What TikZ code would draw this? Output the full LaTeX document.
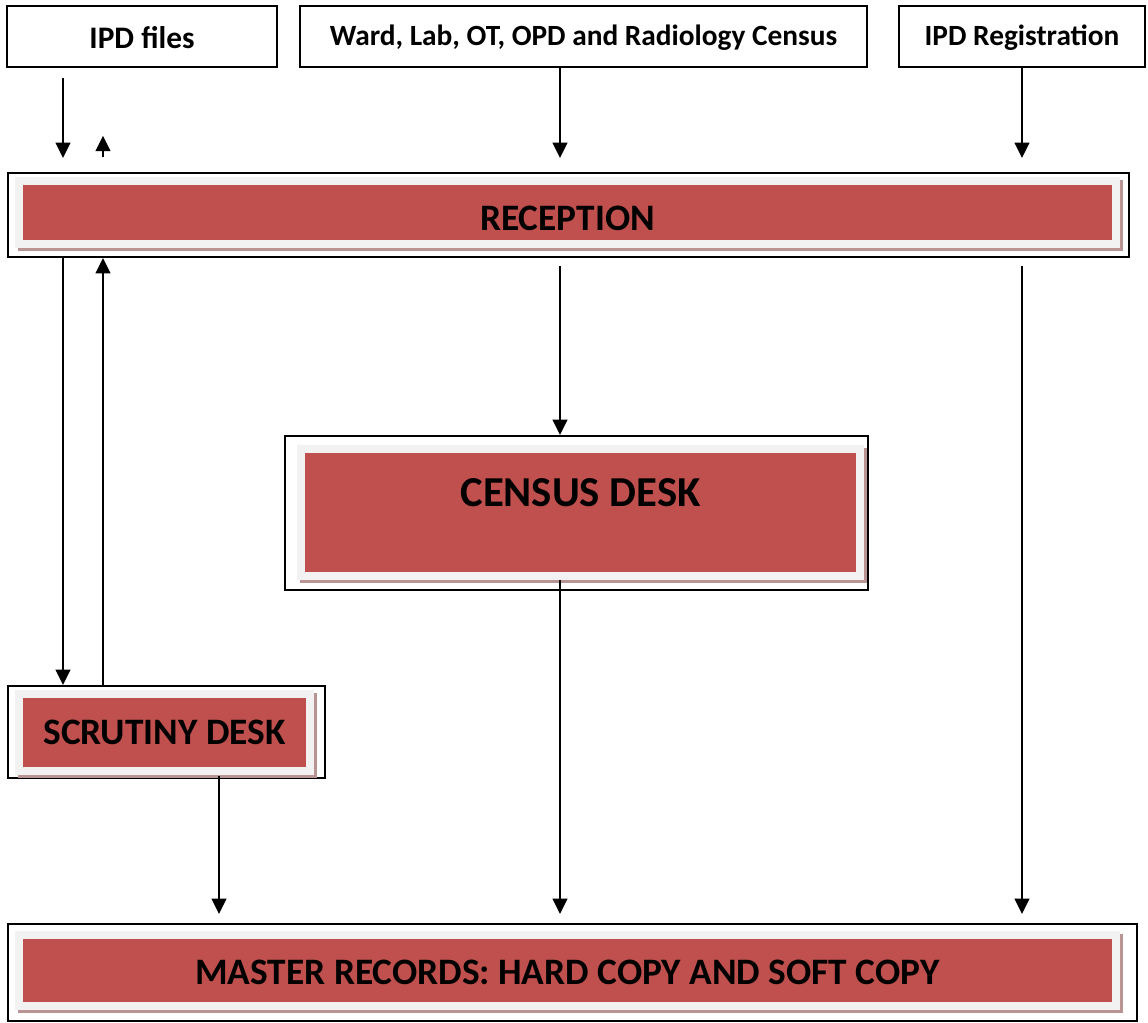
\documentclass[tikz,border=0pt]{standalone}
\usepackage{fontspec}
\setmainfont{Carlito}
\usetikzlibrary{fit,arrows.meta}

\begin{document}
\begin{tikzpicture}[x=0.75pt,y=-0.75pt]
  % Colors
  \definecolor{deskred}{HTML}{C0504D}
  \definecolor{deskgrey}{HTML}{F2F2F2}
  \definecolor{deskshadow}{HTML}{B99494}

  % Styles
  \tikzstyle{source}=[draw,line width=1.1pt,inner sep=0pt]
  \tikzstyle{source text}=[font=\bfseries\fontsize{22}{26}\selectfont]
  \tikzstyle{frame}=[draw,line width=1.5pt,inner sep=0pt]
  \tikzstyle{desk}=[fill=deskred,inner sep=0pt,
    preaction={fill=deskshadow,draw=deskshadow,line width=12pt,
      transform canvas={shift={(2.25pt,-2.25pt)}}},
    preaction={draw=deskgrey,line width=12pt}]
  \tikzstyle{desk text}=[align=center,font=\bfseries\fontsize{28}{34}\selectfont]
  \tikzstyle{flow}=[line width=1.6pt,-{Triangle[length=11.5pt,width=11pt]}]

  \useasboundingbox (0,0) rectangle (1148,1023);

  % Lanes of the arrows
  \coordinate (laneA) at (63,0);
  \coordinate (laneB) at (103,0);
  \coordinate (laneC) at (560,0);
  \coordinate (laneD) at (219,0);
  \coordinate (laneE) at (1022,0);

  % Sources
  \node[source,fit={(7,6) (277,67)}] (ipd) {};
  \node[source text,font=\bfseries\fontsize{23.5}{28}\selectfont,yshift=-0.75pt] (ipdtext) at (ipd) {IPD files};
  \node[source,fit={(300,6) (867,67)}] (wards) {};
  \node[source text,yshift=-0.75pt] (wardstext) at (wards) {Ward, Lab, OT, OPD and Radiology Census};
  \node[source,fit={(899,6) (1145,67)}] (ipdreg) {};
  \node[source text,yshift=-0.75pt] (ipdregtext) at (ipdreg) {IPD Registration};

  % Desks
  \node[frame,fit={(8,173) (1129,257)}] (recframe) {};
  \node[desk,fit={(23,185) (1112,240)}] (reception) {};
  \node[desk text,yshift=-4.5pt] (receptiontext) at (reception) {RECEPTION};

  \node[frame,fit={(285,436) (868,590)}] (censframe) {};
  \node[desk,fit={(305,453) (856,572)}] (census) {};
  \node[desk text,font=\bfseries\fontsize{32}{38}\selectfont,yshift=15pt] (censustext) at (census) {CENSUS DESK};

  \node[frame,fit={(8,686) (325,778)}] (scrframe) {};
  \node[desk,fit={(23,698) (306,767)}] (scrutiny) {};
  \node[desk text] (scrutinytext) at (scrutiny) {SCRUTINY DESK};

  \node[frame,fit={(8,924) (1137,1021)}] (masterframe) {};
  \node[desk,fit={(23,939) (1112,1002)}] (master) {};
  \node[desk text,yshift=-1.5pt] (mastertext) at (master) {MASTER RECORDS: HARD COPY AND SOFT COPY};

  % Flows
  \draw[flow,shorten <=7.5pt,shorten >=10.5pt] (ipd.south -| laneA) -- (recframe.north -| laneA);
  \draw[flow,shorten <=11pt,shorten >=51pt] (recframe.north -| laneB) -- (ipd.south -| laneB);
  \draw[flow,shorten >=10.5pt] (wards.south -| laneC) -- (recframe.north -| laneC);
  \draw[flow,shorten >=10.5pt] (ipdreg.south -| laneE) -- (recframe.north -| laneE);

  \draw[flow] (recframe.south -| laneA) -- (scrframe.north -| laneA);
  \draw[flow] (scrframe.north -| laneB) -- (recframe.south -| laneB);
  \draw[flow,shorten <=6pt] (recframe.south -| laneC) -- (censframe.north -| laneC);

  \draw[flow,shorten <=6pt,shorten >=6.75pt] (census.south -| laneC) -- (masterframe.north -| laneC);
  \draw[flow,shorten <=6.75pt,shorten >=6.75pt] (scrutiny.south -| laneD) -- (masterframe.north -| laneD);
  \draw[flow,shorten <=6pt,shorten >=6.75pt] (recframe.south -| laneE) -- (masterframe.north -| laneE);
\end{tikzpicture}
\end{document}
